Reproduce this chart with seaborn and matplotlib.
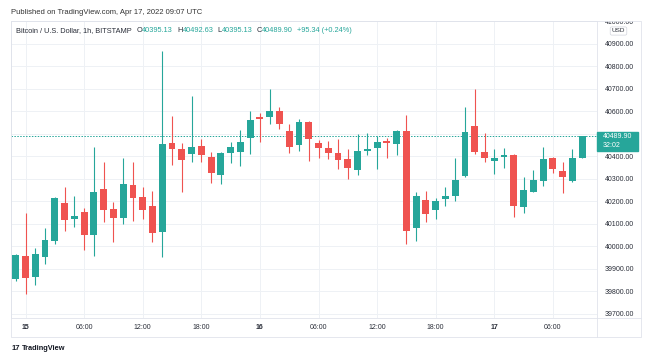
import numpy as np
import pandas as pd
import matplotlib
matplotlib.use('Agg')
import matplotlib.pyplot as plt
import seaborn as sns
from matplotlib.patches import Rectangle
from matplotlib.lines import Line2D
from matplotlib.transforms import Bbox, TransformedBbox, blended_transform_factory

# hourly BTC/USD candles, Apr 14 23:00 -> Apr 17 09:00
opens = [39856, 39959, 39863, 39955, 40024, 40193, 40121, 40155, 40050, 40254,
         40167, 40127, 40272, 40219, 40181, 40066, 40459, 40435, 40410, 40448,
         40399, 40319, 40414, 40419, 40481, 40576, 40577, 40602, 40515, 40451,
         40555, 40461, 40439, 40414, 40388, 40340, 40424, 40436, 40470, 40454,
         40515, 40081, 40207, 40162, 40211, 40224, 40315, 40536, 40421, 40380,
         40396, 40407, 40177, 40244, 40292, 40395, 40337, 40292, 40395.13]
highs = [39967, 40148, 39992, 40081, 40221, 40266, 40226, 40170, 40442, 40374,
         40199, 40392, 40377, 40266, 40247, 40869, 40580, 40459, 40669, 40476,
         40419, 40419, 40466, 40518, 40602, 40592, 40700, 40619, 40544, 40567,
         40558, 40473, 40469, 40478, 40433, 40499, 40503, 40493, 40481, 40518,
         40584, 40244, 40247, 40214, 40266, 40392, 40619, 40700, 40506, 40432,
         40439, 40410, 40308, 40340, 40441, 40399, 40374, 40432, 40492.63]
lows = [39847, 39788, 39829, 39921, 40011, 40070, 40088, 39984, 39959, 40108,
        40021, 40099, 40113, 40122, 40021, 39955, 40362, 40244, 40377, 40374,
        40284, 40276, 40370, 40359, 40410, 40466, 40543, 40522, 40414, 40424,
        40380, 40395, 40389, 40344, 40299, 40318, 40407, 40344, 40392, 40407,
        40010, 40024, 40108, 40122, 40181, 40202, 40310, 40410, 40374, 40324,
        40348, 40130, 40148, 40241, 40270, 40328, 40239, 40288, 40395.13]
closes = [39962, 39859, 39967, 40029, 40217, 40119, 40137, 40050, 40244, 40162,
          40127, 40276, 40217, 40161, 40059, 40456, 40435, 40384, 40444, 40407,
          40328, 40414, 40441, 40463, 40562, 40567, 40602, 40546, 40441, 40555,
          40476, 40438, 40414, 40384, 40348, 40424, 40435, 40466, 40460, 40512,
          40070, 40224, 40143, 40202, 40226, 40296, 40510, 40421, 40392, 40392,
          40407, 40181, 40251, 40296, 40388, 40344, 40308, 40395, 40489.90]

time_ticks = [1, 7, 13, 19, 25, 31, 37, 43, 49, 55]
time_labels = ['15', '06:00', '12:00', '18:00', '16', '06:00', '12:00', '18:00', '17', '06:00']
day_labels = ['15', '16', '17']
price_ticks = list(range(39700, 41001, 100))
last_price = 40489.90

UP, DOWN = '#26a69a', '#ef5350'
TXT = '#2a2e39'
GRID = '#eef1f5'
FRAME = '#e0e3eb'

sns.set_theme(style='white')
plt.rcParams['font.family'] = ['Liberation Sans', 'DejaVu Sans']

df = pd.DataFrame({'open': opens, 'high': highs, 'low': lows, 'close': closes})
df['x'] = np.arange(len(df))
df['up'] = df['close'] >= df['open']
df['color'] = np.where(df['up'], UP, DOWN)
df['bottom'] = df[['open', 'close']].min(axis=1)
df['height'] = (df['close'] - df['open']).abs().clip(lower=6)

W, H = 657, 357
fig = plt.figure(figsize=(W / 100, H / 100), dpi=100)
ax = fig.add_axes([11 / W, 1 - 318 / H, (597 - 11) / W, (318 - 21) / H])

ax.vlines(df['x'], df['low'], df['high'], colors=df['color'], lw=0.8, zorder=2)
ax.bar(df['x'], df['height'], bottom=df['bottom'], width=0.7, color=df['color'],
       linewidth=0, zorder=3)

ax.set_xlim(-0.49, 59.52)
ax.set_ylim(39682, 41002)

ax.set_xticks(time_ticks)
ax.set_xticklabels(time_labels)
for lbl in ax.get_xticklabels():
    if lbl.get_text() in day_labels:
        lbl.set_fontweight('bold')
ax.set_yticks(price_ticks)
# the 40500 label sits under the last price tag
ax.set_yticklabels(['' if v == 40500 else f'{v:.2f}' for v in price_ticks])
ax.yaxis.tick_right()
ax.tick_params(axis='y', length=0, pad=5.5, labelsize=5, labelcolor=TXT)
ax.tick_params(axis='x', length=0, pad=4.5, labelsize=5, labelcolor=TXT)
ax.grid(True, color=GRID, lw=0.7)
ax.set_axisbelow(True)
for s in ax.spines.values():
    s.set_color(FRAME)
    s.set_linewidth(0.6)

# cut the top price label at the frame, like the original
clip = TransformedBbox(Bbox.from_extents(0, 0, 1, 1 - 21 / H), fig.transFigure)
for t in ax.yaxis.get_major_ticks():
    for lbl in (t.label1, t.label2):
        lbl.set_clip_on(True)
        lbl.set_clip_box(clip)

# last price line + tag
ax.axhline(last_price, color=UP, ls=(0, (1.5, 1.5)), lw=0.7, zorder=1)
trans = blended_transform_factory(ax.transAxes, ax.transData)
ax.add_patch(Rectangle((1.0, last_price - 14.3 * 4.444), 41 / 586, 19 * 4.444,
                       transform=trans, color=UP, clip_on=False, zorder=5))
ax.text(1 + 6 / 586, last_price, f'{last_price:.2f}', transform=trans,
        color='white', fontsize=5, va='center', ha='left', zorder=6)
ax.text(1 + 6 / 586, last_price - 9 * 4.444, '32:02', transform=trans,
        color='white', fontsize=5, va='center', ha='left', zorder=6)

# frame around chart + axes panels
fig.add_artist(Rectangle((11 / W, 1 - 337 / H), (641 - 11) / W, (337 - 21) / H,
                         transform=fig.transFigure, fill=False, ec=FRAME, lw=0.6))
fig.add_artist(Line2D([597 / W, 641 / W], [1 - 318 / H, 1 - 318 / H],
                      transform=fig.transFigure, color=FRAME, lw=0.6))
fig.add_artist(Line2D([597 / W, 597 / W], [1 - 337 / H, 1 - 318 / H],
                      transform=fig.transFigure, color=FRAME, lw=0.6))

fig.text(618.5 / W, 1 - 31 / H, 'USD', fontsize=4.6, color=TXT, ha='center', va='center',
         bbox=dict(boxstyle='round,pad=0.25', fc='white', ec='#d1d4dc', lw=0.5))

# legend line
fs = 5.3
t = ax.text(5 / 586, 1 - 10 / 297, 'Bitcoin / U.S. Dollar, 1h, BITSTAMP', transform=ax.transAxes,
            fontsize=fs, color=TXT, va='center', ha='left')
parts = [('O', TXT, 3.5), ('40395.13', UP, 0), ('H', TXT, 3), ('40492.63', UP, 0),
         ('L', TXT, 3), ('40395.13', UP, 0), ('C', TXT, 3), ('40489.90', UP, 0),
         ('+95.34 (+0.24%)', UP, 3)]
for s, c, gap in parts:
    t = ax.annotate(s, xy=(1, 0), xycoords=t, xytext=(gap, 0), textcoords='offset points',
                    fontsize=fs, color=c, va='bottom', ha='left')

fig.text(11 / W, 1 - 13 / H, 'Published on TradingView.com, Apr 17, 2022 09:07 UTC',
         fontsize=5.5, color='#333333', va='center', ha='left')
fig.text(12 / W, 1 - 348 / H, '17', fontsize=5.5, fontweight='bold', color='#131722',
         va='center', ha='left')
fig.text(22 / W, 1 - 348 / H, 'TradingView', fontsize=5.3, fontweight='bold', color='#131722',
         va='center', ha='left')

fig.savefig('out.png', dpi=100)
